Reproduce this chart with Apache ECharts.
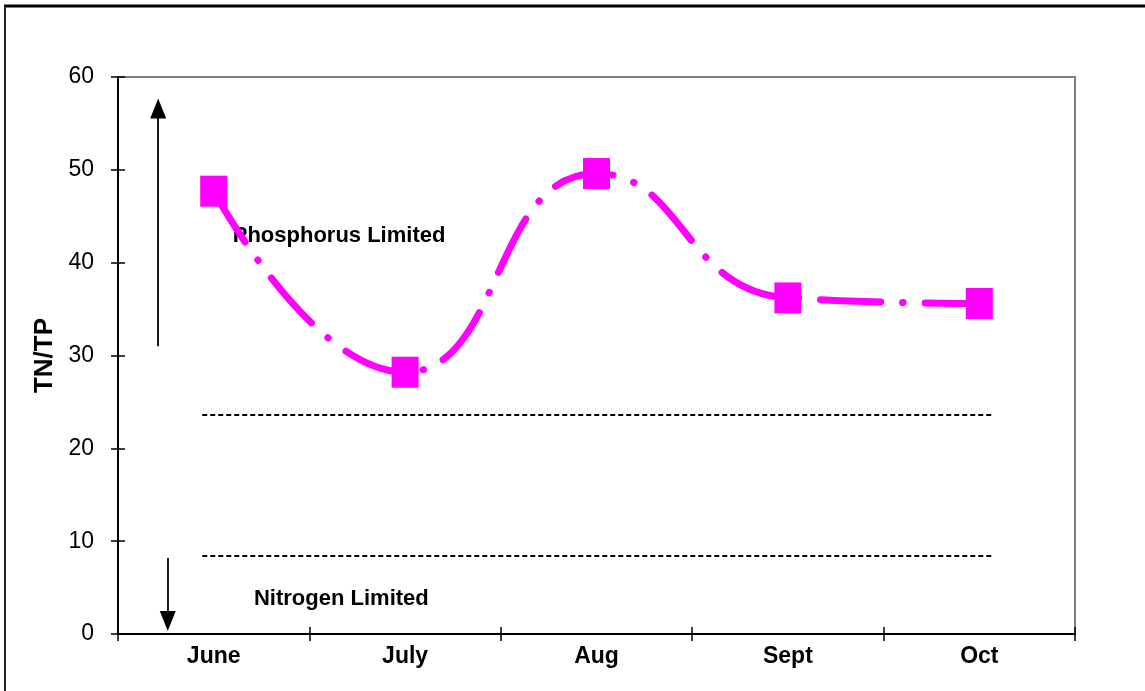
<!DOCTYPE html>
<html>
<head>
<meta charset="utf-8">
<script src="https://cdn.jsdelivr.net/npm/echarts@6/dist/echarts.min.js"></script>
<style>
html,body{margin:0;padding:0;background:#fff;}
#chart{width:1145px;height:691px;}
</style>
</head>
<body>
<div id="chart"></div>
<script>
// ---- data ----
const categories = ['June', 'July', 'Aug', 'Sept', 'Oct'];
const tnTpValues = [47.7, 28.2, 49.6, 36.2, 35.6];
const yTicks = [0, 10, 20, 30, 40, 50, 60];
const thresholdLevels = [23.6, 8.4];          // dashed reference lines (TN/TP)
const thresholdSpan = [0.44, 4.57];            // extent along category scale (0..5)
const upArrow = [[0.21, 31], [0.21, 56.6]];    // Phosphorus limited arrow
const downArrow = [[0.26, 8.2], [0.26, 1.4]];  // Nitrogen limited arrow
const annotations = [
  { text: 'Phosphorus Limited', x: 1.155, y: 42.9 },
  { text: 'Nitrogen Limited', x: 1.167, y: 3.8 }
];

const FONT = '"Liberation Sans", Arial, sans-serif';
const chart = echarts.init(document.getElementById('chart'));

const dashedSeries = thresholdLevels.map(v => ({
  type: 'line', xAxisIndex: 2, yAxisIndex: 0, silent: true, symbol: 'none',
  data: [[thresholdSpan[0], v], [thresholdSpan[1], v]],
  lineStyle: { color: '#000', width: 2, type: [5, 3] }, z: 3
}));

function arrowSeries(pts) {
  return {
    type: 'line', xAxisIndex: 2, yAxisIndex: 0, silent: true, symbol: 'none',
    data: [], lineStyle: { opacity: 0 },
    markLine: {
      silent: true, animation: false,
      symbol: ['none', 'triangle'], symbolSize: [16, 20],
      label: { show: false },
      lineStyle: { color: '#000', width: 1.8, type: 'solid' },
      data: [[{ coord: pts[0] }, { coord: pts[1] }]]
    }
  };
}

chart.setOption({
  animation: false,
  backgroundColor: '#fff',
  textStyle: { fontFamily: FONT },
  grid: {
    left: 118, right: 70, top: 77, bottom: 57,
    show: true, borderColor: '#808080', borderWidth: 2, backgroundColor: 'transparent'
  },
  graphic: [
    { type: 'line', shape: { x1: 4, y1: 6, x2: 1145, y2: 6 }, style: { stroke: '#000', lineWidth: 3 } },
    { type: 'line', shape: { x1: 5, y1: 6, x2: 5, y2: 691 }, style: { stroke: '#222', lineWidth: 2 } }
  ],
  xAxis: [
    {
      type: 'category', data: categories, boundaryGap: true,
      axisLine: { lineStyle: { color: '#000', width: 2 } },
      axisTick: { show: true, inside: false, length: 7, lineStyle: { color: '#000', width: 1.5 } },
      axisLabel: { color: '#000', fontSize: 23, fontWeight: 'bold', fontFamily: FONT, margin: 11 },
      splitLine: { show: false }
    },
    {
      type: 'category', data: categories, boundaryGap: true, position: 'bottom',
      axisLine: { show: false },
      axisTick: { show: true, inside: true, length: 7, lineStyle: { color: '#000', width: 1.5 } },
      axisLabel: { show: false }, splitLine: { show: false }
    },
    { type: 'value', min: 0, max: 5, show: false }
  ],
  yAxis: [
    {
      type: 'value', min: yTicks[0], max: yTicks[yTicks.length - 1], interval: 10,
      name: 'TN/TP', nameLocation: 'middle', nameRotate: 90, nameGap: 60,
      nameTextStyle: { color: '#000', fontSize: 26, fontWeight: 'bold', fontFamily: FONT },
      axisLine: { show: true, lineStyle: { color: '#000', width: 2 } },
      axisTick: { show: true, inside: false, length: 7, lineStyle: { color: '#000', width: 1.5 } },
      axisLabel: { color: '#000', fontSize: 23, fontFamily: FONT, margin: 24 },
      splitLine: { show: false }
    },
    {
      type: 'value', min: yTicks[0], max: yTicks[yTicks.length - 1], interval: 10, position: 'left',
      axisLine: { show: false },
      axisTick: { show: true, inside: true, length: 7, lineStyle: { color: '#000', width: 1.5 } },
      axisLabel: { show: false }, splitLine: { show: false }
    }
  ],
  series: [
    ...dashedSeries,
    arrowSeries(upArrow),
    arrowSeries(downArrow),
    {
      type: 'line', xAxisIndex: 0, yAxisIndex: 0, data: tnTpValues,
      smooth: 0.5,
      symbol: 'rect', symbolSize: [27, 31], showSymbol: true,
      itemStyle: { color: '#FF00FF' },
      lineStyle: { color: '#FF00FF', width: 7, type: [60, 22, 0.5, 22], cap: 'round' },
      z: 5
    },
    {
      type: 'line', xAxisIndex: 2, yAxisIndex: 0, silent: true, symbol: 'none',
      data: [], lineStyle: { opacity: 0 },
      markPoint: {
        silent: true, animation: false, symbol: 'circle', symbolSize: 1,
        itemStyle: { color: 'transparent' },
        label: {
          show: true, position: 'inside', formatter: p => p.name,
          color: '#000', opacity: 1, fontSize: 22, fontWeight: 'bold', fontFamily: FONT
        },
        data: annotations.map(a => ({ coord: [a.x, a.y], name: a.text }))
      },
      z: 8, zlevel: 1
    }
  ]
});
</script>
</body>
</html>
